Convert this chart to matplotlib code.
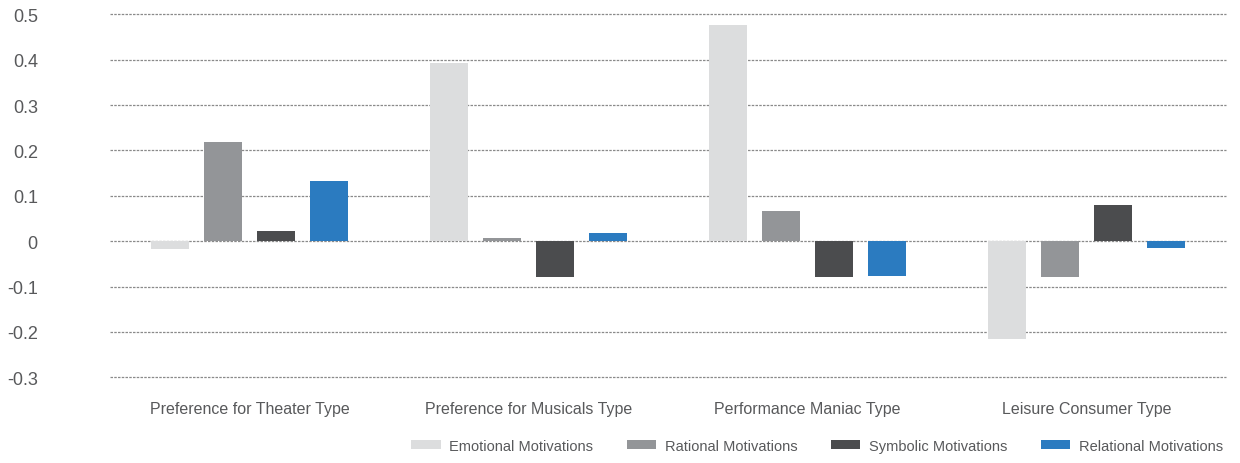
import numpy as np
import matplotlib
matplotlib.use("Agg")
import matplotlib.pyplot as plt

plt.rcParams['font.family'] = ['Liberation Sans Narrow', 'Liberation Sans', 'DejaVu Sans']

# motivation scores by audience type
types = ["Preference for Theater Type", "Preference for Musicals Type",
         "Performance Maniac Type", "Leisure Consumer Type"]
series = ["Emotional Motivations", "Rational Motivations",
          "Symbolic Motivations", "Relational Motivations"]
emotional = [-0.017, 0.393, 0.476, -0.215]
rational = [0.219, 0.007, 0.067, -0.079]
symbolic = [0.023, -0.078, -0.079, 0.080]
relational = [0.133, 0.018, -0.076, -0.015]
yticks = [0.5, 0.4, 0.3, 0.2, 0.1, 0, -0.1, -0.2, -0.3]
ylabels = ["0.5", "0.4", "0.3", "0.2", "0.1", "0", "-0.1", "-0.2", "-0.3"]

colors = ["#dcddde", "#939598", "#4b4c4e", "#2b7bc0"]
txt = "#58595b"

fig = plt.figure(figsize=(12.4, 4.64), dpi=100)
ax = fig.add_axes([110 / 1240, 1 - 378.3 / 464, 1116 / 1240, 363 / 464])

x = np.arange(len(types))
width = 0.136
offsets = [-0.285, -0.095, 0.095, 0.285]
for vals, off, c, name in zip([emotional, rational, symbolic, relational], offsets, colors, series):
    ax.bar(x + off, vals, width, color=c, label=name, zorder=2)

# dotted guide lines at every tick
for t in yticks:
    ax.axhline(t, color="#8a8a8a", lw=0.9, ls=(0, (2, 1)), zorder=1, clip_on=False)

ax.set_xlim(-0.5, 3.5)
ax.set_ylim(-0.3, 0.5)
ax.set_yticks(yticks)
ax.set_yticklabels(ylabels, fontsize=13, color=txt)
ax.set_xticks(x)
ax.set_xticklabels(types, fontsize=11.5, color=txt)
ax.tick_params(axis="y", length=0, pad=52)
ax.tick_params(axis="x", length=0, pad=17)
for s in ax.spines.values():
    s.set_visible(False)

fig.legend(loc="center right", bbox_to_anchor=(1236 / 1240, 1 - 447 / 464), ncol=4,
           frameon=False, fontsize=10.5, labelcolor=txt, handlelength=2.0,
           handleheight=0.6, handletextpad=0.6, columnspacing=2.3)

fig.savefig("out.png", dpi=100)
